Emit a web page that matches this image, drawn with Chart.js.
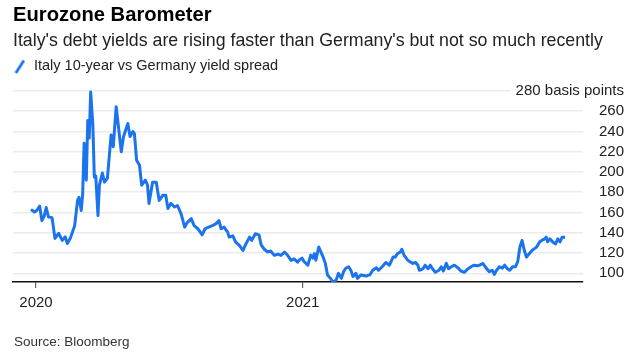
<!DOCTYPE html>
<html>
<head>
<meta charset="utf-8">
<script src="https://cdn.jsdelivr.net/npm/chart.js@4.4.1/dist/chart.umd.min.js"></script>
<style>
  html, body { margin: 0; padding: 0; background: #fff; }
  #wrap { position: relative; width: 640px; height: 355px; }
</style>
</head>
<body>
<div id="wrap"><canvas id="c"></canvas></div>
<script>
// ---- Data ----
// x: days since 2020-01-01, y: Italy 10y vs Germany spread, basis points
const dayOffsets = [
  -7, -2, 1, 5, 8, 11, 14, 17, 22, 26, 31, 36, 40, 43, 47, 53, 57, 59, 62, 64,
  66, 69, 71, 73, 75, 78, 80, 82, 85, 87, 91, 94, 98, 103, 106, 110, 117, 120, 126, 129,
  133, 135, 138, 142, 145, 150, 153, 155, 160, 165, 169, 174, 178, 181, 185, 190, 194, 199, 204, 208,
  213, 217, 222, 228, 232, 237, 242, 247, 251, 254, 258, 263, 265, 270, 274, 279, 284, 288, 293, 296,
  301, 306, 309, 313, 318, 322, 327, 332, 336, 341, 345, 350, 354, 359, 361, 365, 368, 373, 377, 380,
  382, 384, 388, 391, 394, 397, 400, 404, 408, 412, 415, 419, 422, 425, 429, 432, 435, 439, 441, 446,
  453, 458, 462, 467, 470, 475, 480, 485, 490, 493, 496, 500, 502, 505, 510, 513, 517, 521, 524, 526,
  531, 534, 538, 541, 544, 548, 553, 556, 559, 563, 566, 570, 574, 579, 583, 588, 592, 597, 601, 606,
  611, 613, 618, 622, 626, 629, 632, 636, 640, 643, 646, 650, 654, 658, 661, 664, 667, 670, 673, 677,
  681, 684, 687, 691, 694, 698, 700, 702, 705, 709, 713, 716, 719, 722, 726
];
const spreadBp = [
  163, 160.5, 162, 166.5, 152, 156, 165, 155.6, 155, 134.5, 139.5, 132.5, 136, 129.5, 134.5, 147, 172, 175, 162, 178,
  228.5, 192, 251, 233.5, 279, 246, 195, 196, 157, 187, 199, 190, 194, 236.5, 225, 264.5, 220, 234.8, 248, 235,
  240, 238, 211.7, 206.7, 187, 192, 187, 169, 190, 190, 172, 177, 177, 164, 169, 165.5, 167, 159, 145.6, 150.6,
  154, 147, 144, 138, 144, 145.6, 147, 149, 152, 144, 145.6, 140.7, 135.7, 137, 130.8, 127.5, 122.6, 129, 135.7, 132.5,
  139, 138, 128, 124, 121, 122, 117.7, 119, 117.7, 121, 118, 112.7, 114.3, 111, 113, 115, 111.4, 108, 118, 115,
  119.5, 113, 126, 121, 116, 109.8, 98.4, 95, 91, 93.5, 100, 95, 101.6, 105, 106.5, 103, 96.8, 100, 95, 98.4,
  97.4, 98.4, 103, 105.5, 103, 106.5, 110.7, 108, 116, 116, 119.5, 121, 123.7, 118, 113, 111.4, 109.8, 110.7, 108, 103,
  104.5, 108, 104.5, 108, 104.5, 101, 103, 106.5, 102.3, 109.8, 104.5, 106.5, 108, 105.5, 102.3, 101, 104, 106.5, 108, 107.4,
  108.8, 109.8, 105, 101.6, 103, 99, 103, 106.5, 105, 108, 105, 103, 106.5, 106.5, 111.4, 126, 132.5, 122.8, 116, 119.5,
  122.8, 124.4, 126, 131, 132.5, 134, 135.7, 131, 134, 131, 129, 134, 131, 135.7, 135.7
];
const xTickDays = [0, 366];
const xTickLabels = ['2020', '2021'];
const yTickValues = [100, 120, 140, 160, 180, 200, 220, 240, 260, 280];
const yTopLabel = '280 basis points';

const titleText = 'Eurozone Barometer';
const subtitleText = "Italy's debt yields are rising faster than Germany's but not so much recently";
const seriesName = 'Italy 10-year vs Germany yield spread';
const sourceText = 'Source: Bloomberg';

// ---- Styling ----
const FONT = "'Liberation Sans', Arial, sans-serif";
const BLUE = '#1b74ee';

// legend marker: a short diagonal stroke
const slash = document.createElement('canvas');
slash.width = 11; slash.height = 15;
(function () {
  const g = slash.getContext('2d');
  g.strokeStyle = BLUE; g.lineWidth = 2.8; g.lineCap = 'butt';
  g.beginPath(); g.moveTo(1.5, 14); g.lineTo(9.5, 1.5); g.stroke();
})();

const sourcePlugin = {
  id: 'sourceNote',
  afterDraw(chart) {
    const ctx = chart.ctx;
    ctx.save();
    ctx.font = '13.5px ' + FONT;
    ctx.fillStyle = '#333';
    ctx.textAlign = 'left';
    ctx.textBaseline = 'middle';
    ctx.fillText(sourceText, 14, 342);
    ctx.restore();
  }
};

const points = dayOffsets.map((d, i) => ({ x: d, y: spreadBp[i] }));

new Chart(document.getElementById('c'), {
  type: 'line',
  data: {
    datasets: [{
      label: seriesName,
      data: points,
      borderColor: BLUE,
      backgroundColor: BLUE,
      borderWidth: 3,
      pointRadius: 0,
      tension: 0,
      borderJoinStyle: 'round'
    }]
  },
  options: {
    responsive: true,
    maintainAspectRatio: false,
    animation: false,
    layout: { padding: { left: 13, right: 15, top: 0, bottom: 37 } },
    plugins: {
      title: {
        display: true, text: titleText, align: 'start', color: '#000',
        font: { family: FONT, size: 20.2, weight: 'bold' },
        padding: { top: 3.2, bottom: 2.9 }
      },
      subtitle: {
        display: true, text: subtitleText, align: 'start', color: '#222',
        font: { family: FONT, size: 17.75 },
        padding: { top: 0, bottom: 7.6 }
      },
      legend: {
        display: true, align: 'start',
        labels: {
          usePointStyle: true, pointStyle: slash, boxWidth: 13.75, boxHeight: 14,
          padding: 0, color: '#222', font: { family: FONT, size: 14.5 }
        }
      },
      tooltip: { enabled: false }
    },
    scales: {
      x: {
        type: 'linear',
        min: -31.6, max: 750.6,
        afterBuildTicks(scale) { scale.ticks = xTickDays.map(v => ({ value: v })); },
        ticks: {
          callback(v) { const i = xTickDays.indexOf(v); return i >= 0 ? xTickLabels[i] : ''; },
          color: '#222', font: { family: FONT, size: 15 }, padding: 6, maxRotation: 0
        },
        grid: { drawOnChartArea: false, drawTicks: true, tickLength: 6, color: '#666', lineWidth: 1.2 },
        border: { display: true, color: '#111', width: 1.5 }
      },
      y: {
        type: 'linear', position: 'right',
        min: 91.41, max: 287.2,
        afterBuildTicks(scale) { scale.ticks = yTickValues.map(v => ({ value: v })); },
        afterFit(scale) { scale.width = 42; },
        ticks: {
          mirror: true,
          crossAlign: 'near',
          padding: 41,
          callback(v) { return v === 280 ? yTopLabel : String(v); },
          color: '#222', font: { family: FONT, size: 15 },
          showLabelBackdrop: (ctx) => ctx.tick && ctx.tick.value === 280,
          backdropColor: '#fff',
          backdropPadding: { left: 5, right: 2, top: 2, bottom: 2 }
        },
        grid: { drawTicks: false, color: '#ebebeb', lineWidth: 1.6 },
        border: { display: false }
      }
    }
  },
  plugins: [sourcePlugin]
});
</script>
</body>
</html>
